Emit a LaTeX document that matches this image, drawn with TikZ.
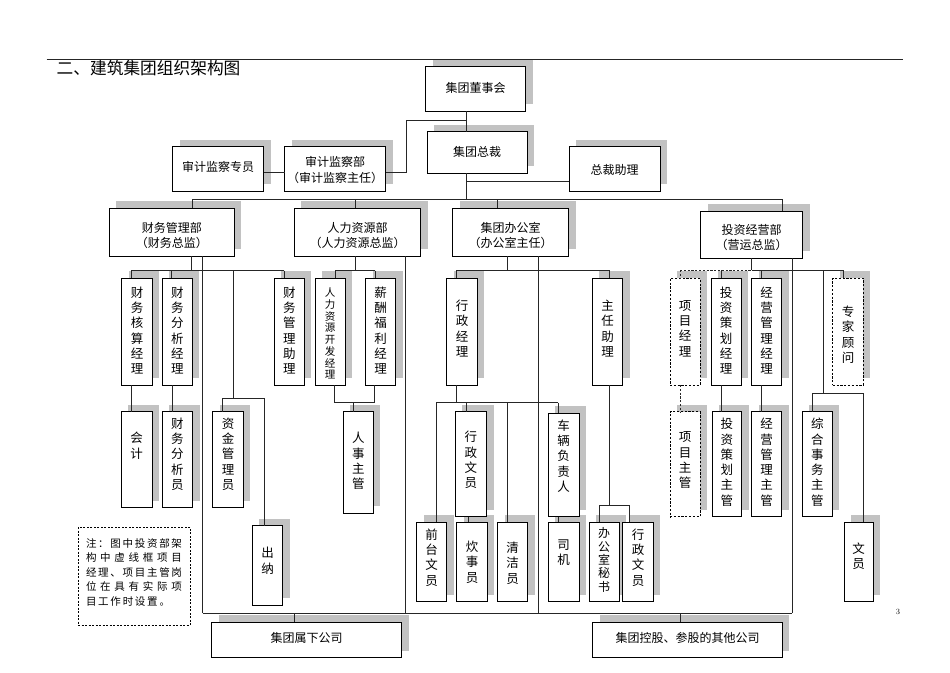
\documentclass[tikz,border=0pt]{standalone}
\usepackage{fontspec}
\newfontfamily\cjk{Noto Sans CJK SC}
\usetikzlibrary{calc}
\pgfdeclarelayer{bg}
\pgfsetlayers{bg,main}
\tikzset{
  boxln/.style={draw=black, line width=1pt, fill=white, inner sep=0pt, outer sep=0pt},
  dbox/.style={dash pattern=on 2.2pt off 1.6pt, line width=0.8pt},
  conn/.style={draw=black!85, line width=0.8pt},
  dconn/.style={conn, dash pattern=on 2.2pt off 1.6pt},
  vt/.style={inner sep=0pt, align=center, font=\cjk\fontsize{12.5}{15.3}\selectfont},
  ht/.style={inner sep=0pt, align=center, font=\cjk\fontsize{12}{14.5}\selectfont},
  shade/.style={fill=black!24},
}
\newcommand\orgbox[9]{%
  \pgfmathsetmacro\bxw{#6-#4}%
  \pgfmathsetmacro\bxh{#7-#5}%
  \pgfmathsetmacro\bxcx{(#4+#6)/2}%
  \pgfmathsetmacro\bxcy{(#5+#7)/2}%
  \pgfmathsetmacro\bxty{\bxcy+(#8)}%
  \begin{pgfonlayer}{bg}\fill[shade] (#4+7,#5-7) rectangle (#6+7,#7-7);\end{pgfonlayer}%
  \node[boxln,minimum width=\bxw pt,minimum height=\bxh pt,#1] (#3) at (\bxcx,\bxcy) {};%
  \node[#2] (#3-t) at (\bxcx,\bxty) {#9};%
}
\newcommand\orgv[8][]{\orgbox{#1}{vt}{#2}{#3}{#4}{#5}{#6}{#7}{#8}}
\newcommand\orgh[8][]{\orgbox{#1}{ht}{#2}{#3}{#4}{#5}{#6}{#7}{#8}}
\def\spr#1{\ifx#1\relax\else\hfill#1\expandafter\spr\fi}
\begin{document}
\begin{tikzpicture}[x=1pt,y=-1pt]
\begin{pgfonlayer}{bg}\fill[white] (0,0) rectangle (950,672);\end{pgfonlayer}
\useasboundingbox (0,0) rectangle (950,672);

% title and rule
\draw[line width=0.8pt, black!85] (46.7,59) -- (903.3,59);
\node[anchor=west, inner sep=0pt, font=\cjk\fontsize{16.7}{20}\selectfont] (title) at (56.5,68.5) {二、建筑集团组织架构图};

% top level
\orgh{dongshi}{425.5}{66.7}{525.5}{111}{-0.5}{集团董事会}
\orgh{zongcai}{427}{131.7}{527}{173.3}{-1}{集团总裁}
\orgbox{}{ht,font=\cjk\fontsize{12}{16}\selectfont}{shenjibu}{284.5}{146.7}{385.5}{191}{1.5}{审计监察部\\（审计监察主任）}
\orgh{shenjiyuan}{172.5}{146.7}{263.5}{191}{-2}{审计监察专员}
\orgh{zhuli}{569}{146.7}{660}{191}{1}{总裁助理}

% departments
\orgh{caiwu}{109.3}{208.3}{234.3}{256}{3.3}{财务管理部\\（财务总监）}
\orgh{renli}{294.3}{208.3}{420.7}{256}{3.3}{人力资源部\\（人力资源总监）}
\orgh{bangong}{452.7}{208.3}{568.7}{256}{3.3}{集团办公室\\（办公室主任）}
\orgh{touzi}{700.7}{211}{802.7}{258.3}{2.8}{投资经营部\\（营运总监）}

% level 1
\orgv{hesuan}{121.7}{278.3}{152.3}{385}{-1}{财\\务\\核\\算\\经\\理}
\orgv{fenxi}{162.3}{278.3}{192.3}{385}{-1}{财\\务\\分\\析\\经\\理}
\orgv{cwzhuli}{274.3}{278.3}{304.3}{385}{-1}{财\\务\\管\\理\\助\\理}
\orgbox{}{vt,font=\cjk\fontsize{10.5}{11.7}\selectfont}{kaifa}{315}{278.3}{345}{385}{2}{人\\力\\资\\源\\开\\发\\经\\理}
\orgv{xinchou}{365.7}{278.3}{395.7}{385}{-1}{薪\\酬\\福\\利\\经\\理}
\orgv{xingzheng}{446.7}{278.3}{477.3}{385}{-3}{行\\政\\经\\理}
\orgv{zrzhuli}{592.3}{278.3}{622.7}{385}{-3}{主\\任\\助\\理}
\orgv[dbox]{xmjl}{670}{278.3}{700}{385}{-3}{项\\目\\经\\理}
\orgv{tzch}{711}{278.3}{741}{385}{-1}{投\\资\\策\\划\\经\\理}
\orgv{jygl}{751.7}{278.3}{781.7}{385}{-1}{经\\营\\管\\理\\经\\理}
\orgv[dbox]{zjgw}{832.7}{278.3}{863.3}{385}{3}{专\\家\\顾\\问}

% level 2
\orgv{kuaiji}{121}{411.7}{152.3}{507.7}{-14}{会\\计}
\orgv{fxy}{162}{411.7}{192.5}{507.7}{-5.7}{财\\务\\分\\析\\员}
\orgv{zijin}{212.7}{411.7}{243.3}{507.7}{-5.7}{资\\金\\管\\理\\员}
\orgv{chuna}{252.3}{525.7}{282.7}{605}{-4.5}{出\\纳}
\orgv{renshi}{343.3}{411.7}{373.3}{513.3}{-1.5}{人\\事\\主\\管}
\orgv{xzwy}{455}{411.7}{486.7}{516.7}{-4}{行\\政\\文\\员}
\orgv{cheliang}{548.3}{413.3}{579}{516.7}{-9}{车\\辆\\负\\责\\人}
\orgv[dbox]{xmzg}{670}{411.7}{700}{516.7}{-4}{项\\目\\主\\管}
\orgv{tzzg}{712}{411.7}{741.7}{516.7}{-2}{投\\资\\策\\划\\主\\管}
\orgv{jyzg}{751.7}{411.7}{781.7}{516.7}{-2}{经\\营\\管\\理\\主\\管}
\orgv{zhsw}{802.3}{411.7}{832.3}{516.7}{-2}{综\\合\\事\\务\\主\\管}

% level 3
\orgv{qiantai}{416.7}{522.3}{446.7}{601.7}{-4.5}{前\\台\\文\\员}
\orgv{chuishi}{456.7}{522.3}{487.3}{601.7}{0}{炊\\事\\员}
\orgv{qingjie}{497.7}{522.3}{527.7}{601.7}{1}{清\\洁\\员}
\orgv{siji}{548.3}{522.3}{579}{601.7}{-9.5}{司\\机}
\orgbox{}{vt,font=\cjk\fontsize{12}{13.4}\selectfont}{mishu}{589}{522.3}{619.3}{601.7}{-2}{办\\公\\室\\秘\\书}
\orgv{xzwy2}{622.7}{522.3}{653.3}{601.7}{-4.5}{行\\政\\文\\员}
\orgv{wenyuan}{844}{522.3}{873.3}{601.7}{-6}{文\\员}

% bottom companies
\orgh{jtsx}{211.7}{622.3}{401.7}{657.7}{-1.7}{集团属下公司}
\orgh{kongu}{592.7}{622.3}{782.3}{657.7}{-1.7}{集团控股、参股的其他公司}

% note
\node[draw=black, dash pattern=on 2pt off 1.5pt, line width=0.8pt, minimum width=112pt, minimum height=98pt, inner sep=0pt] (note) at (134,576) {};
\node[inner sep=0pt, align=left, font=\cjk\fontsize{10.5}{14.5}\selectfont] (note-t) at (134,572)
 {\hbox to 96pt{注\spr ：图中投资部架\relax}\\
  \hbox to 96pt{构\spr 中虚线框项目\relax}\\
  \hbox to 96pt{经\spr 理、项目主管岗\relax}\\
  \hbox to 96pt{位\spr 在具有实际项\relax}\\
  \hbox to 84pt{目\spr 工作时设置。\relax}};

\node[inner sep=0pt, font=\fontsize{8}{9}\selectfont] (pg) at (898,611.5) {3};

% ---------- connectors ----------
\coordinate (jA) at (466,120.7);
\coordinate (jB) at (466,199.3);
\draw[conn] (dongshi.south -| 466,0) -- (zongcai.north -| 466,0);
\draw[conn] (jA) -- (406,120.7) -- (406,172.7) -- (shenjibu.east |- 0,172.7);
\draw[conn] (shenjiyuan.east |- 0,172.7) -- (shenjibu.west |- 0,172.7);
\draw[conn] (zongcai.south -| 466,0) -- (jB);
\draw[conn] (466,181.7) -- (zhuli.west |- 0,181.7);
\draw[conn] (192.5,199.3) -- (782.3,199.3);
\draw[conn] (192.5,199.3) -- (caiwu.north -| 192.5,0);
\draw[conn] (355,199.3) -- (renli.north -| 355,0);
\draw[conn] (497.5,199.3) -- (bangong.north -| 497.5,0);
\draw[conn] (782.3,199.3) -- (touzi.north -| 782.3,0);

% finance
\draw[conn] (caiwu.south -| 191.7,0) -- (191.7,270.7);
\draw[conn] (131,270.7) -- (284,270.7);
\draw[conn] (131,270.7) -- (hesuan.north -| 131,0);
\draw[conn] (171,270.7) -- (fenxi.north -| 171,0);
\draw[conn] (284,270.7) -- (cwzhuli.north -| 284,0);
\draw[conn] (233.3,270.7) -- (233.3,398.3);
\draw[conn] (222.7,398.3) -- (264,398.3);
\draw[conn] (222.7,398.3) -- (zijin.north -| 222.7,0);
\draw[conn] (264,398.3) -- (chuna.north -| 264,0);
\draw[conn] (caiwu.south -| 202.7,0) -- (202.7,613.3);
\draw[conn] (hesuan.south -| 131,0) -- (kuaiji.north -| 131,0);
\draw[conn] (fenxi.south -| 172,0) -- (fxy.north -| 172,0);

% HR
\draw[conn] (renli.south -| 355,0) -- (355,270.7);
\draw[conn] (335,270.7) -- (375,270.7);
\draw[conn] (335,270.7) -- (kaifa.north -| 335,0);
\draw[conn] (375,270.7) -- (xinchou.north -| 375,0);
\draw[conn] (renli.south -| 405.7,0) -- (405.7,613.3);
\draw[conn] (kaifa.south -| 334,0) -- (334,402) -- (374.5,402) -- (xinchou.south -| 374.5,0);
\draw[conn] (353.5,402) -- (renshi.north -| 353.5,0);

% office
\draw[conn] (bangong.south -| 507.7,0) -- (507.7,270);
\draw[conn] (456.7,270) -- (609.3,270);
\draw[conn] (456.7,270) -- (xingzheng.north -| 456.7,0);
\draw[conn] (609.3,270) -- (zrzhuli.north -| 609.3,0);
\draw[conn] (bangong.south -| 538.5,0) -- (538.5,613.3);
\draw[conn] (xingzheng.south -| 456.7,0) -- (456.7,402.7);
\draw[conn] (436,402.7) -- (558.3,402.7);
\draw[conn] (436,402.7) -- (qiantai.north -| 436,0);
\draw[conn] (466.7,402.7) -- (xzwy.north -| 466.7,0);
\draw[conn] (507.7,402.7) -- (qingjie.north -| 507.7,0);
\draw[conn] (558.3,402.7) -- (cheliang.north -| 558.3,0);
\draw[conn] (xzwy.south -| 468.3,0) -- (chuishi.north -| 468.3,0);
\draw[conn] (cheliang.south -| 558.3,0) -- (siji.north -| 558.3,0);
\draw[conn] (zrzhuli.south -| 609.5,0) -- (609.5,505);
\draw[conn] (599.3,505) -- (629.3,505);
\draw[conn] (599.3,505) -- (mishu.north -| 599.3,0);
\draw[conn] (629.3,505) -- (xzwy2.north -| 629.3,0);

% investment
\draw[conn] (touzi.south -| 751.7,0) -- (751.7,270);
\draw[dconn] (680,270) -- (751.7,270);
\draw[conn] (751.7,270) -- (843.3,270);
\draw[dconn] (680,270) -- (xmjl.north -| 680,0);
\draw[conn] (721,270) -- (tzch.north -| 721,0);
\draw[conn] (761.7,270) -- (jygl.north -| 761.7,0);
\draw[conn] (843.3,270) -- (zjgw.north -| 843.3,0);
\draw[conn] (823.3,270) -- (823.3,393.3);
\draw[conn] (812.7,393.3) -- (863.3,393.3);
\draw[conn] (812.7,393.3) -- (zhsw.north -| 812.7,0);
\draw[conn] (863.3,393.3) -- (wenyuan.north -| 863.3,0);
\draw[conn] (touzi.south -| 792.3,0) -- (792.3,613.3);
\draw[dconn] (xmjl.south -| 680,0) -- (xmzg.north -| 680,0);
\draw[conn] (tzch.south -| 721.7,0) -- (tzzg.north -| 721.7,0);
\draw[conn] (jygl.south -| 761.7,0) -- (jyzg.north -| 761.7,0);

% bottom bus
\draw[conn] (202.7,613.3) -- (792.3,613.3);
\draw[conn] (294,613.3) -- (jtsx.north -| 294,0);
\draw[conn] (680,613.3) -- (kongu.north -| 680,0);
\end{tikzpicture}
\end{document}
